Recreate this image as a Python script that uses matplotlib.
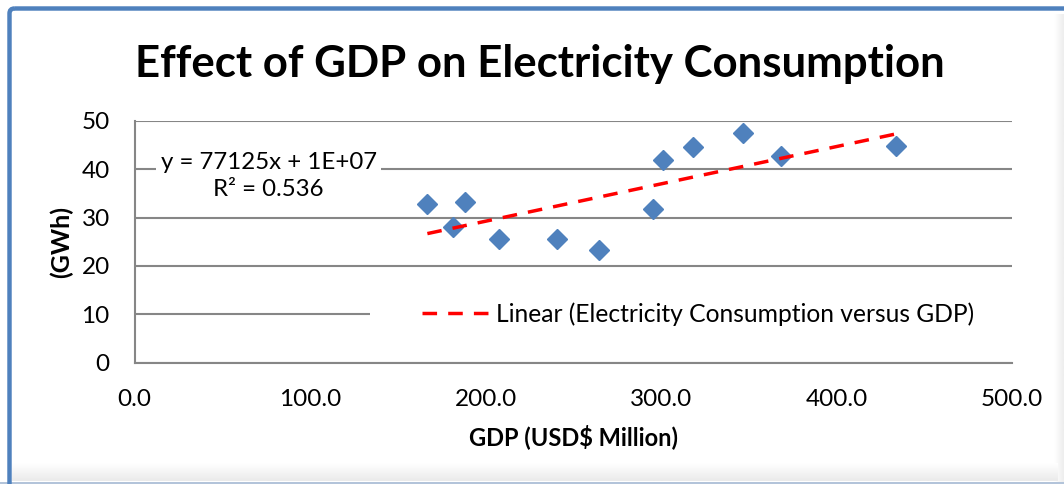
import numpy as np
import matplotlib
matplotlib.use("Agg")
import matplotlib.pyplot as plt
from matplotlib.patches import FancyBboxPatch, Rectangle

# Annual GDP (USD million) and electricity consumption (GWh)
gdp_musd = [166.8, 181.2, 188.4, 207.8, 240.5, 264.6, 295.6, 300.9, 318.0, 346.5, 368.5, 433.9]
consumption_gwh = [32.7, 28.0, 33.1, 25.5, 25.5, 23.2, 31.7, 41.9, 44.6, 47.4, 42.8, 44.8]

x_ticks = [0, 100, 200, 300, 400, 500]
y_ticks = [0, 10, 20, 30, 40, 50]

title = "Effect of GDP on Electricity Consumption"
x_label = "GDP (USD$ Million)"
y_label = "(GWh)"
legend_label = "Linear (Electricity Consumption versus GDP)"

# Linear trend reported in kWh per USD million
trend_slope_kwh = 77125
trend_r2 = 0.536
equation = f"y = {trend_slope_kwh}x + 1E+07\nR\u00b2 = {trend_r2}"

plt.rcParams['font.family'] = ['Lato', 'DejaVu Sans']

W, H = 1064, 484
fig = plt.figure(figsize=(W / 100, H / 100), dpi=100)
fig.patch.set_facecolor("white")


def fx(px):
    return px / W


def fy(py):
    return 1 - py / H


# ---- background: chart frame and soft shadow ----
bg = fig.add_axes([0, 0, 1, 1], zorder=-5)
bg.set_xlim(0, W)
bg.set_ylim(H, 0)
bg.axis("off")

right_grad = np.linspace(1.0, 0.93, 10)[None, :]
bg.imshow(np.repeat(right_grad, 2, axis=0), cmap="gray", vmin=0, vmax=1,
          extent=(1054, W, 482, 14), aspect="auto", interpolation="bilinear")
bottom_grad = np.linspace(1.0, 0.92, 18)[:, None]
bg.imshow(np.repeat(bottom_grad, 2, axis=1), cmap="gray", vmin=0, vmax=1,
          extent=(12, 1058, 481, 463), aspect="auto", interpolation="bilinear")
bg.add_patch(Rectangle((0, 481.5), W, 3, facecolor="#b3c4da", edgecolor="none"))

frame = FancyBboxPatch((9.5, 8.5), W + 40, H + 40,
                       boxstyle="round,pad=0,rounding_size=5",
                       facecolor="none", edgecolor="#4f81bd", linewidth=3.2)
bg.add_patch(frame)

# ---- plot area ----
ax = fig.add_axes([fx(134.7), fy(362.7), fx(1012) - fx(134.7), fy(120.7) - fy(362.7)])
ax.set_facecolor("none")
ax.set_xlim(0, 500)
ax.set_ylim(0, 50)
ax.set_xticks(x_ticks)
ax.set_yticks(y_ticks)
ax.set_xticklabels([f"{v:.1f}" for v in x_ticks])
ax.set_yticklabels([str(v) for v in y_ticks])
ax.tick_params(axis="both", length=0, labelsize=17.5, colors="black")
ax.tick_params(axis="y", pad=18)
ax.tick_params(axis="x", pad=19)

for side in ("top", "right"):
    ax.spines[side].set_visible(False)
for side in ("left", "bottom"):
    ax.spines[side].set_color("#868686")
    ax.spines[side].set_linewidth(1.5)

ax.yaxis.grid(True, color="#868686", linewidth=1.5)
ax.set_axisbelow(True)

# scatter points
ax.plot(gdp_musd, consumption_gwh, linestyle="none", marker="D", markersize=10.3,
        markerfacecolor="#4f81bd", markeredgecolor="#4f81bd", zorder=4, clip_on=False)

# linear trendline (slope converted from kWh to GWh)
x_arr = np.array(gdp_musd)
y_arr = np.array(consumption_gwh)
slope = trend_slope_kwh / 1e6
intercept = y_arr.mean() - slope * x_arr.mean()
x_line = np.array([x_arr.min(), x_arr.max()])
trend, = ax.plot(x_line, intercept + slope * x_line, color="#ff0000", linewidth=2.5,
                 linestyle=(0, (4.2, 3.2)), dash_capstyle="butt", zorder=5,
                 label=legend_label)

# trendline equation label
ax.text(76.3, 38.5, equation, ha="center", va="center", fontsize=17.3,
        linespacing=1.35, zorder=6,
        bbox=dict(facecolor="white", edgecolor="none", pad=3))

# legend with a white panel over the gridline
ax.add_patch(Rectangle(((370 - 134.7) / 877.3, 0.14), 1.02 - (370 - 134.7) / 877.3, 0.12,
                       transform=ax.transAxes, facecolor="white", edgecolor="none",
                       zorder=3, clip_on=False))
leg = ax.legend(handles=[trend], loc="center left",
                bbox_to_anchor=((422 - 134.7) / 877.3, (362.7 - 314) / 242),
                frameon=False, fontsize=17.7, handlelength=2.7, handletextpad=0.33,
                borderpad=0, borderaxespad=0)
leg.set_zorder(7)

# titles
fig.text(fx(540), fy(64), title, ha="center", va="center", fontsize=31.5,
         fontweight="bold")
fig.text(fx(573.4), fy(437), x_label, ha="center", va="center", fontsize=17,
         fontweight="bold")
fig.text(fx(61), fy(242), y_label, ha="center", va="center", fontsize=18,
         fontweight="bold", rotation=90)

fig.savefig("out.png", dpi=100, facecolor="white")
